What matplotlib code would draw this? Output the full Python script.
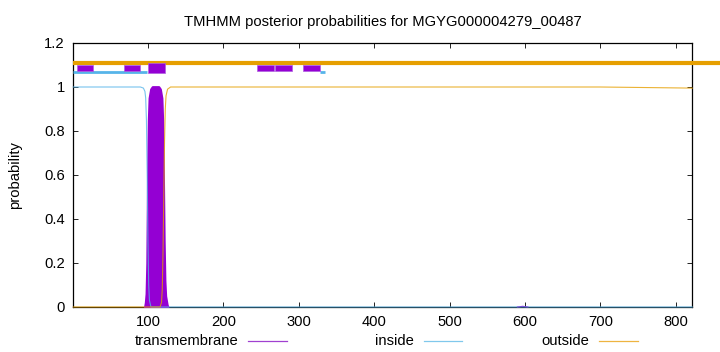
import matplotlib
matplotlib.use("Agg")
import matplotlib.pyplot as plt
from matplotlib.lines import Line2D

plt.rcParams['font.family'] = ['Liberation Sans', 'DejaVu Sans']
plt.rcParams['font.size'] = 10.6

# posterior probability curves (position, probability)
inside_x = [1, 90, 94, 96, 97, 98, 99, 100, 101, 102, 104, 822]
inside_y = [1.0, 1.0, 0.995, 0.98, 0.95, 0.85, 0.6, 0.3, 0.1, 0.03, 0.0, 0.0]

outside_x = [1, 116, 118, 119, 120, 121, 122, 123, 124, 126, 130, 700, 822]
outside_y = [0.0, 0.0, 0.02, 0.08, 0.25, 0.5, 0.75, 0.9, 0.96, 0.99, 1.0, 1.0, 0.995]

tm_x = [96, 97, 98, 99, 100, 101, 102, 104, 106, 114, 116, 118, 119, 120, 121, 122, 123, 124, 125, 126]
tm_y = [0.0, 0.02, 0.06, 0.2, 0.6, 0.85, 0.95, 0.99, 1.0, 1.0, 0.99, 0.95, 0.85, 0.6, 0.3, 0.12, 0.05, 0.03, 0.01, 0.0]
tm_small_x = [590, 597, 604]
tm_small_y = [0.0, 0.003, 0.0]

# topology bars drawn above the curves
outside_bar = (1, 870)
inside_bars = [(1, 99), (328, 335)]
tm_bars = [(6, 27), (68, 90), (245, 267), (269, 291), (306, 328)]
tm_main_bar = (100, 122)

purple = '#9400d3'
blue = '#56b4e9'
orange = '#e69f00'

fig = plt.figure(figsize=(7.2, 3.52), dpi=100)
ax = fig.add_axes([73.3 / 720, 45 / 352, (692.3 - 73.3) / 720, (307 - 43) / 352])

ax.fill_between(tm_x, tm_y, 0, color=purple, lw=2, edgecolor=purple, zorder=3)
ax.plot(tm_small_x, tm_small_y, color=purple, lw=0.8, zorder=3, clip_on=False)
ax.plot(inside_x, inside_y, color=blue, lw=0.8, alpha=0.8, zorder=4, clip_on=False)
ax.plot(outside_x, outside_y, color=orange, lw=0.8, alpha=0.8, zorder=4, clip_on=False)

ax.plot(outside_bar, [1.109, 1.109], color=orange, lw=3, solid_capstyle='butt', clip_on=False, zorder=5)
for a, b in inside_bars:
    ax.plot([a, b], [1.068, 1.068], color=blue, lw=2, solid_capstyle='butt', zorder=5)
ax.broken_barh([(a, b - a) for a, b in tm_bars], (1.073, 0.027), facecolors=purple,
               edgecolor='#b060e0', lw=0.5, zorder=6)
ax.broken_barh([(tm_main_bar[0], tm_main_bar[1] - tm_main_bar[0])], (1.065, 0.045),
               facecolors=purple, edgecolor='#b060e0', lw=0.5, zorder=6)

ax.set_xlim(1, 822)
ax.set_ylim(0, 1.2)
ax.set_xticks([100, 200, 300, 400, 500, 600, 700, 800])
ax.set_yticks([0, 0.2, 0.4, 0.6, 0.8, 1.0, 1.2])
ax.set_yticklabels(['0', '0.2', '0.4', '0.6', '0.8', '1', '1.2'])
ax.tick_params(direction='in', length=3.5, width=0.6, top=True, right=True, pad=6)
for s in ax.spines.values():
    s.set_linewidth(0.9)

ax.set_ylabel('probability', labelpad=16)
ax.set_title('TMHMM posterior probabilities for MGYG000004279_00487', fontsize=10.6, pad=12)

# legend row under the axis
legend_items = [('transmembrane', '#a040d0', 239, 248, 287),
                ('inside', '#80c8ec', 414, 424, 462),
                ('outside', '#eeb440', 589, 599, 638)]
ly = 1 - 341 / 352
for label, col, tx, l0, l1 in legend_items:
    fig.text(tx / 720, ly, label, ha='right', va='center')
    fig.add_artist(Line2D([l0 / 720, l1 / 720], [ly, ly], color=col, lw=0.9,
                          transform=fig.transFigure))

fig.savefig('out.png', dpi=100)
